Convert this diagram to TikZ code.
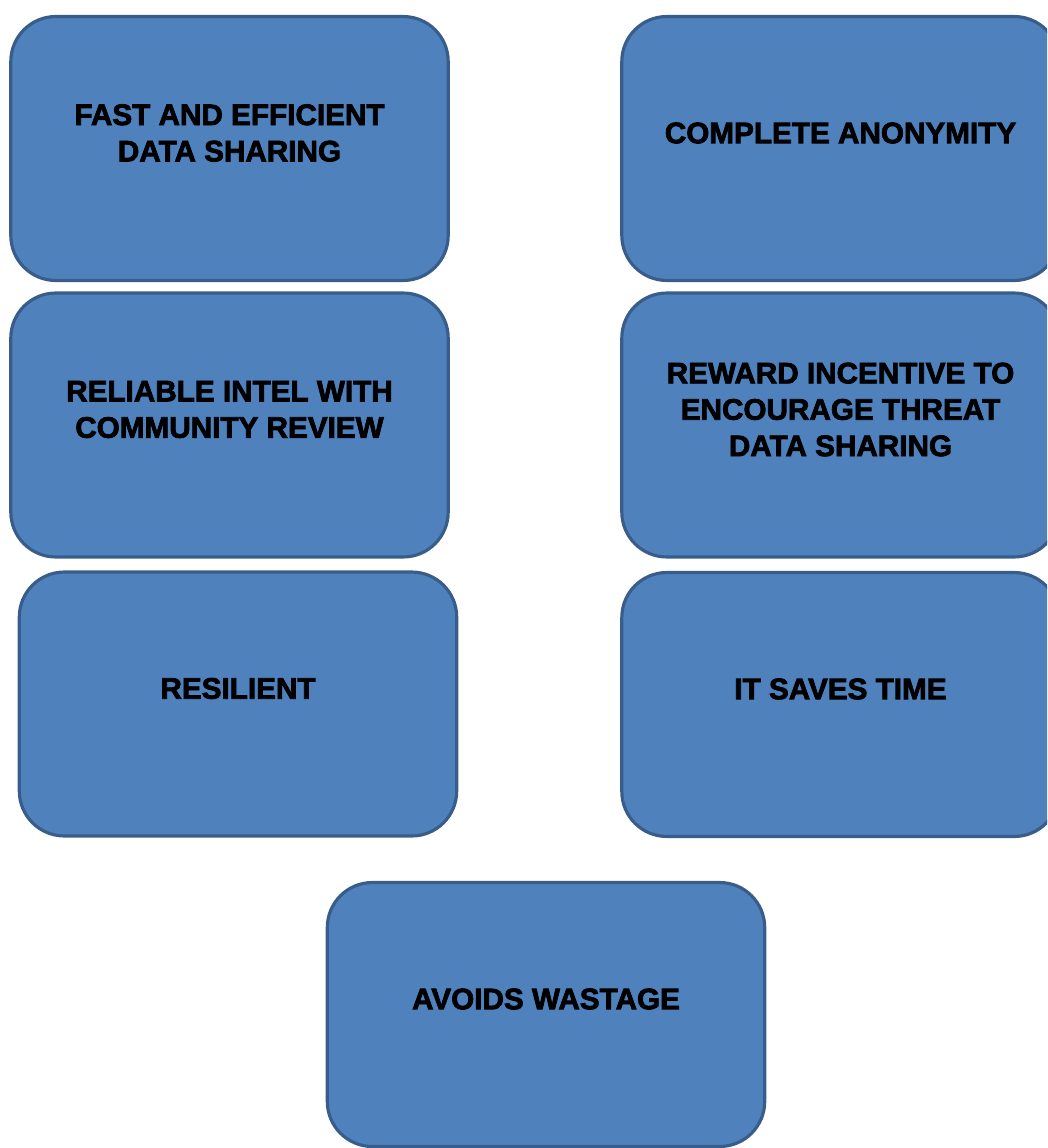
\documentclass[tikz,border=0pt]{standalone}
\usepackage{fontspec}
\setmainfont{Liberation Sans}[BoldFeatures={FakeBold=2.5}]
\definecolor{boxblue}{HTML}{4F81BD}
\definecolor{boxedge}{HTML}{385D8A}

\begin{document}
\begin{tikzpicture}[x=0.02cm, y=-0.02cm,
    box/.style={draw=boxedge, fill=boxblue, line width=1.8pt, rounded corners=0.9cm,
        minimum width=8.75cm, minimum height=5.28cm, inner sep=0pt},
    lbl/.style={font=\fontsize{16.9}{20.7}\selectfont\bfseries, align=center,
        inner sep=0pt, text=black}]
            % canvas
            \useasboundingbox (0,0) rectangle (1047,1148);
            \clip (0,0) rectangle (1047,1148);

            % the boxes
            \node[box] (fast)   at (229.5,148.5) {};
            \node[box] (anon)   at (840.5,148.5) {};
            \node[box] (intel)  at (229.5,425) {};
            \node[box] (reward) at (840.5,425) {};
            \node[box] (resil)  at (238,704) {};
            \node[box] (time)   at (840.5,704.5) {};
            \node[box] (waste)  at (546,1014.5) {};

            % labels sit a bit above the middle
            \node[lbl] (fast-t)   at ([yshift=0.31cm]fast.center)   {FAST AND EFFICIENT\\DATA SHARING};
            \node[lbl] (anon-t)   at ([yshift=0.31cm]anon.center)   {COMPLETE ANONYMITY};
            \node[lbl] (intel-t)  at ([yshift=0.31cm]intel.center)  {RELIABLE INTEL WITH\\COMMUNITY REVIEW};
            \node[lbl] (reward-t) at ([yshift=0.31cm]reward.center) {REWARD INCENTIVE TO\\ENCOURAGE THREAT\\DATA SHARING};
            \node[lbl] (resil-t)  at ([yshift=0.31cm]resil.center)  {RESILIENT};
            \node[lbl] (time-t)   at ([yshift=0.31cm]time.center)   {IT SAVES TIME};
            \node[lbl] (waste-t)  at ([yshift=0.31cm]waste.center)  {AVOIDS WASTAGE};
        \end{tikzpicture}
\end{document}
